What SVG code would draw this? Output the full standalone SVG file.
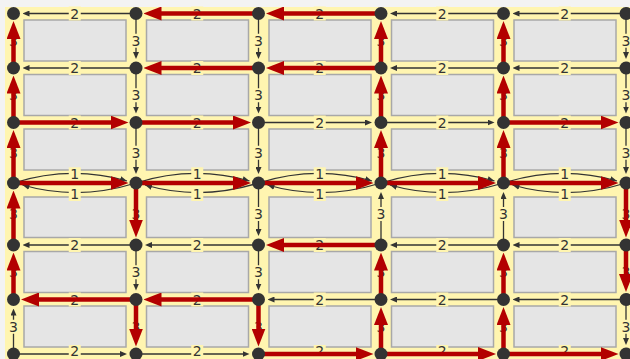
<svg xmlns="http://www.w3.org/2000/svg" width="630" height="359" viewBox="0 0 630 359">
<style>
.blk{fill:#e5e5e5;stroke:#a8a8a8;stroke-width:1.5}
.bl{fill:none;stroke:#333;stroke-width:1.3;marker-end:url(#bh)}
.arc{fill:none;stroke:#333;stroke-width:1.3;marker-end:url(#ah)}
.rd{fill:none;stroke:#b30000;stroke-width:4.5;marker-end:url(#rh)}
.lb{fill:#fff5b0}
.t{font-family:"DejaVu Sans",sans-serif;font-size:14px;fill:#333;text-anchor:middle}
.nd{fill:#333}
</style>
<defs>
<marker id="bh" markerUnits="userSpaceOnUse" viewBox="0 0 7 6" markerWidth="7" markerHeight="6" refX="3" refY="3" orient="auto"><path d="M0,0 L7,3 L0,6 z" fill="#333"/></marker>
<marker id="ah" markerUnits="userSpaceOnUse" viewBox="0 0 7 6" markerWidth="7" markerHeight="6" refX="7" refY="3" orient="auto"><path d="M0,0 L7,3 L0,6 z" fill="#333"/></marker>
<marker id="rh" markerUnits="userSpaceOnUse" viewBox="0 0 18 14" markerWidth="18" markerHeight="14" refX="8" refY="7" orient="auto"><path d="M0,0 L18,7 L0,14 z" fill="#b30000"/></marker>
</defs>
<rect x="0" y="0" width="630" height="359" fill="#f3f3f3"/>
<rect x="5" y="7" width="625" height="352" fill="#fff5b0"/>
<g id="blocks">
<rect class="blk" x="24" y="20" width="102" height="41"/><rect class="blk" x="146.5" y="20" width="102" height="41"/><rect class="blk" x="269" y="20" width="102" height="41"/><rect class="blk" x="391.5" y="20" width="102" height="41"/><rect class="blk" x="514" y="20" width="102" height="41"/>
<rect class="blk" x="24" y="74.5" width="102" height="41"/><rect class="blk" x="146.5" y="74.5" width="102" height="41"/><rect class="blk" x="269" y="74.5" width="102" height="41"/><rect class="blk" x="391.5" y="74.5" width="102" height="41"/><rect class="blk" x="514" y="74.5" width="102" height="41"/>
<rect class="blk" x="24" y="129" width="102" height="41"/><rect class="blk" x="146.5" y="129" width="102" height="41"/><rect class="blk" x="269" y="129" width="102" height="41"/><rect class="blk" x="391.5" y="129" width="102" height="41"/><rect class="blk" x="514" y="129" width="102" height="41"/>
<rect class="blk" x="24" y="197" width="102" height="40.5"/><rect class="blk" x="146.5" y="197" width="102" height="40.5"/><rect class="blk" x="269" y="197" width="102" height="40.5"/><rect class="blk" x="391.5" y="197" width="102" height="40.5"/><rect class="blk" x="514" y="197" width="102" height="40.5"/>
<rect class="blk" x="24" y="251.5" width="102" height="41"/><rect class="blk" x="146.5" y="251.5" width="102" height="41"/><rect class="blk" x="269" y="251.5" width="102" height="41"/><rect class="blk" x="391.5" y="251.5" width="102" height="41"/><rect class="blk" x="514" y="251.5" width="102" height="41"/>
<rect class="blk" x="24" y="306" width="102" height="41"/><rect class="blk" x="146.5" y="306" width="102" height="41"/><rect class="blk" x="269" y="306" width="102" height="41"/><rect class="blk" x="391.5" y="306" width="102" height="41"/><rect class="blk" x="514" y="306" width="102" height="41"/>
</g>
<g id="connectors">
<g id="thin">
<path class="bl" d="M136,13.5 H26.5"/><path class="bl" d="M503.5,13.5 H394"/><path class="bl" d="M626,13.5 H516.5"/>
<path class="bl" d="M136,68 H26.5"/><path class="bl" d="M503.5,68 H394"/><path class="bl" d="M626,68 H516.5"/>
<path class="bl" d="M258.5,122.5 H368"/><path class="bl" d="M381,122.5 H490.5"/>
<path class="bl" d="M136,245 H26.5"/><path class="bl" d="M258.5,245 H149"/><path class="bl" d="M503.5,245 H394"/><path class="bl" d="M626,245 H516.5"/>
<path class="bl" d="M381,299.5 H271.5"/><path class="bl" d="M503.5,299.5 H394"/><path class="bl" d="M626,299.5 H516.5"/>
<path class="bl" d="M13.5,354 H123"/><path class="bl" d="M136,354 H245.5"/>
<path class="bl" d="M13.5,354 V312.5"/>
<path class="bl" d="M136,13.5 V55"/><path class="bl" d="M136,68 V109.5"/><path class="bl" d="M136,122.5 V170"/><path class="bl" d="M136,245 V286.5"/>
<path class="bl" d="M258.5,13.5 V55"/><path class="bl" d="M258.5,68 V109.5"/><path class="bl" d="M258.5,122.5 V170"/><path class="bl" d="M258.5,183 V232"/><path class="bl" d="M258.5,245 V286.5"/>
<path class="bl" d="M381,245 V196"/><path class="bl" d="M503.5,245 V196"/>
<path class="bl" d="M626,13.5 V55"/><path class="bl" d="M626,68 V109.5"/><path class="bl" d="M626,122.5 V170"/><path class="bl" d="M626,299.5 V341"/>
<path class="arc" d="M13.5,183 Q71,165 127,181"/><path class="arc" d="M136,183 Q78,201 22.5,185"/>
<path class="arc" d="M136,183 Q193.5,165 249.5,181"/><path class="arc" d="M258.5,183 Q200.5,201 145,185"/>
<path class="arc" d="M258.5,183 Q316,165 372,181"/><path class="arc" d="M381,183 Q323,201 267.5,185"/>
<path class="arc" d="M381,183 Q438.5,165 494.5,181"/><path class="arc" d="M503.5,183 Q445.5,201 390,185"/>
<path class="arc" d="M503.5,183 Q561,165 617,181"/><path class="arc" d="M626,183 Q568,201 512.5,185"/>
</g>
<g id="labels">
<g id="lh">
<rect class="lb" x="68.75" y="6.5" width="12" height="14"/><rect class="lb" x="191.25" y="6.5" width="12" height="14"/><rect class="lb" x="313.75" y="6.5" width="12" height="14"/><rect class="lb" x="436.25" y="6.5" width="12" height="14"/><rect class="lb" x="558.75" y="6.5" width="12" height="14"/>
<text class="t" x="74.75" y="18.5">2</text><text class="t" x="197.25" y="18.5">2</text><text class="t" x="319.75" y="18.5">2</text><text class="t" x="442.25" y="18.5">2</text><text class="t" x="564.75" y="18.5">2</text>
<rect class="lb" x="68.75" y="61" width="12" height="14"/><rect class="lb" x="191.25" y="61" width="12" height="14"/><rect class="lb" x="313.75" y="61" width="12" height="14"/><rect class="lb" x="436.25" y="61" width="12" height="14"/><rect class="lb" x="558.75" y="61" width="12" height="14"/>
<text class="t" x="74.75" y="73">2</text><text class="t" x="197.25" y="73">2</text><text class="t" x="319.75" y="73">2</text><text class="t" x="442.25" y="73">2</text><text class="t" x="564.75" y="73">2</text>
<rect class="lb" x="68.75" y="115.5" width="12" height="14"/><rect class="lb" x="191.25" y="115.5" width="12" height="14"/><rect class="lb" x="313.75" y="115.5" width="12" height="14"/><rect class="lb" x="436.25" y="115.5" width="12" height="14"/><rect class="lb" x="558.75" y="115.5" width="12" height="14"/>
<text class="t" x="74.75" y="127.5">2</text><text class="t" x="197.25" y="127.5">2</text><text class="t" x="319.75" y="127.5">2</text><text class="t" x="442.25" y="127.5">2</text><text class="t" x="564.75" y="127.5">2</text>
<rect class="lb" x="68.75" y="167.3" width="12" height="14"/><rect class="lb" x="191.25" y="167.3" width="12" height="14"/><rect class="lb" x="313.75" y="167.3" width="12" height="14"/><rect class="lb" x="436.25" y="167.3" width="12" height="14"/><rect class="lb" x="558.75" y="167.3" width="12" height="14"/>
<text class="t" x="74.75" y="179.3">1</text><text class="t" x="197.25" y="179.3">1</text><text class="t" x="319.75" y="179.3">1</text><text class="t" x="442.25" y="179.3">1</text><text class="t" x="564.75" y="179.3">1</text>
<rect class="lb" x="68.75" y="187" width="12" height="14"/><rect class="lb" x="191.25" y="187" width="12" height="14"/><rect class="lb" x="313.75" y="187" width="12" height="14"/><rect class="lb" x="436.25" y="187" width="12" height="14"/><rect class="lb" x="558.75" y="187" width="12" height="14"/>
<text class="t" x="74.75" y="199">1</text><text class="t" x="197.25" y="199">1</text><text class="t" x="319.75" y="199">1</text><text class="t" x="442.25" y="199">1</text><text class="t" x="564.75" y="199">1</text>
<rect class="lb" x="68.75" y="238" width="12" height="14"/><rect class="lb" x="191.25" y="238" width="12" height="14"/><rect class="lb" x="313.75" y="238" width="12" height="14"/><rect class="lb" x="436.25" y="238" width="12" height="14"/><rect class="lb" x="558.75" y="238" width="12" height="14"/>
<text class="t" x="74.75" y="250">2</text><text class="t" x="197.25" y="250">2</text><text class="t" x="319.75" y="250">2</text><text class="t" x="442.25" y="250">2</text><text class="t" x="564.75" y="250">2</text>
<rect class="lb" x="68.75" y="292.5" width="12" height="14"/><rect class="lb" x="191.25" y="292.5" width="12" height="14"/><rect class="lb" x="313.75" y="292.5" width="12" height="14"/><rect class="lb" x="436.25" y="292.5" width="12" height="14"/><rect class="lb" x="558.75" y="292.5" width="12" height="14"/>
<text class="t" x="74.75" y="304.5">2</text><text class="t" x="197.25" y="304.5">2</text><text class="t" x="319.75" y="304.5">2</text><text class="t" x="442.25" y="304.5">2</text><text class="t" x="564.75" y="304.5">2</text>
<rect class="lb" x="68.75" y="345" width="12" height="14"/><rect class="lb" x="191.25" y="345" width="12" height="14"/><rect class="lb" x="313.75" y="345" width="12" height="14"/><rect class="lb" x="436.25" y="345" width="12" height="14"/><rect class="lb" x="558.75" y="345" width="12" height="14"/>
<text class="t" x="74.75" y="355.5">2</text><text class="t" x="197.25" y="355.5">2</text><text class="t" x="319.75" y="355.5">2</text><text class="t" x="442.25" y="355.5">2</text><text class="t" x="564.75" y="355.5">2</text>
</g>
<g id="lv">
<rect class="lb" x="7.5" y="33.75" width="12" height="14"/><rect class="lb" x="130" y="33.75" width="12" height="14"/><rect class="lb" x="252.5" y="33.75" width="12" height="14"/><rect class="lb" x="375" y="33.75" width="12" height="14"/><rect class="lb" x="497.5" y="33.75" width="12" height="14"/><rect class="lb" x="620" y="33.75" width="12" height="14"/>
<text class="t" x="13.5" y="45.75">3</text><text class="t" x="136" y="45.75">3</text><text class="t" x="258.5" y="45.75">3</text><text class="t" x="381" y="45.75">3</text><text class="t" x="503.5" y="45.75">3</text><text class="t" x="626" y="45.75">3</text>
<rect class="lb" x="7.5" y="88.25" width="12" height="14"/><rect class="lb" x="130" y="88.25" width="12" height="14"/><rect class="lb" x="252.5" y="88.25" width="12" height="14"/><rect class="lb" x="375" y="88.25" width="12" height="14"/><rect class="lb" x="497.5" y="88.25" width="12" height="14"/><rect class="lb" x="620" y="88.25" width="12" height="14"/>
<text class="t" x="13.5" y="100.25">3</text><text class="t" x="136" y="100.25">3</text><text class="t" x="258.5" y="100.25">3</text><text class="t" x="381" y="100.25">3</text><text class="t" x="503.5" y="100.25">3</text><text class="t" x="626" y="100.25">3</text>
<rect class="lb" x="7.5" y="145.75" width="12" height="14"/><rect class="lb" x="130" y="145.75" width="12" height="14"/><rect class="lb" x="252.5" y="145.75" width="12" height="14"/><rect class="lb" x="375" y="145.75" width="12" height="14"/><rect class="lb" x="497.5" y="145.75" width="12" height="14"/><rect class="lb" x="620" y="145.75" width="12" height="14"/>
<text class="t" x="13.5" y="157.75">3</text><text class="t" x="136" y="157.75">3</text><text class="t" x="258.5" y="157.75">3</text><text class="t" x="381" y="157.75">3</text><text class="t" x="503.5" y="157.75">3</text><text class="t" x="626" y="157.75">3</text>
<rect class="lb" x="7.5" y="207" width="12" height="14"/><rect class="lb" x="130" y="207" width="12" height="14"/><rect class="lb" x="252.5" y="207" width="12" height="14"/><rect class="lb" x="375" y="207" width="12" height="14"/><rect class="lb" x="497.5" y="207" width="12" height="14"/><rect class="lb" x="620" y="207" width="12" height="14"/>
<text class="t" x="13.5" y="219">3</text><text class="t" x="136" y="219">3</text><text class="t" x="258.5" y="219">3</text><text class="t" x="381" y="219">3</text><text class="t" x="503.5" y="219">3</text><text class="t" x="626" y="219">3</text>
<rect class="lb" x="7.5" y="265.25" width="12" height="14"/><rect class="lb" x="130" y="265.25" width="12" height="14"/><rect class="lb" x="252.5" y="265.25" width="12" height="14"/><rect class="lb" x="375" y="265.25" width="12" height="14"/><rect class="lb" x="497.5" y="265.25" width="12" height="14"/><rect class="lb" x="620" y="265.25" width="12" height="14"/>
<text class="t" x="13.5" y="277.25">3</text><text class="t" x="136" y="277.25">3</text><text class="t" x="258.5" y="277.25">3</text><text class="t" x="381" y="277.25">3</text><text class="t" x="503.5" y="277.25">3</text><text class="t" x="626" y="277.25">3</text>
<rect class="lb" x="7.5" y="319.75" width="12" height="14"/><rect class="lb" x="130" y="319.75" width="12" height="14"/><rect class="lb" x="252.5" y="319.75" width="12" height="14"/><rect class="lb" x="375" y="319.75" width="12" height="14"/><rect class="lb" x="497.5" y="319.75" width="12" height="14"/><rect class="lb" x="620" y="319.75" width="12" height="14"/>
<text class="t" x="13.5" y="331.75">3</text><text class="t" x="136" y="331.75">3</text><text class="t" x="258.5" y="331.75">3</text><text class="t" x="381" y="331.75">3</text><text class="t" x="503.5" y="331.75">3</text><text class="t" x="626" y="331.75">3</text>
</g>
</g>
<g id="path">
<path class="rd" d="M258.5,13.5 H153.5"/><path class="rd" d="M381,13.5 H276"/>
<path class="rd" d="M258.5,68 H153.5"/><path class="rd" d="M381,68 H276"/>
<path class="rd" d="M13.5,122.5 H118.5"/><path class="rd" d="M136,122.5 H241"/><path class="rd" d="M503.5,122.5 H608.5"/>
<path class="rd" d="M13.5,183 H118.5"/><path class="rd" d="M136,183 H241"/><path class="rd" d="M258.5,183 H363.5"/><path class="rd" d="M381,183 H486"/><path class="rd" d="M503.5,183 H608.5"/>
<path class="rd" d="M381,245 H276"/>
<path class="rd" d="M136,299.5 H31"/><path class="rd" d="M258.5,299.5 H153.5"/>
<path class="rd" d="M258.5,354 H363.5"/><path class="rd" d="M381,354 H486"/><path class="rd" d="M503.5,354 H608.5"/>
<path class="rd" d="M13.5,68 V31"/><path class="rd" d="M13.5,122.5 V85.5"/><path class="rd" d="M13.5,183 V140"/><path class="rd" d="M13.5,245 V200.5"/><path class="rd" d="M13.5,299.5 V262.5"/>
<path class="rd" d="M136,183 V227.5"/><path class="rd" d="M136,299.5 V336.5"/>
<path class="rd" d="M258.5,299.5 V336.5"/>
<path class="rd" d="M381,68 V31"/><path class="rd" d="M381,122.5 V85.5"/><path class="rd" d="M381,183 V140"/><path class="rd" d="M381,299.5 V262.5"/><path class="rd" d="M381,354 V317"/>
<path class="rd" d="M503.5,68 V31"/><path class="rd" d="M503.5,122.5 V85.5"/><path class="rd" d="M503.5,183 V140"/><path class="rd" d="M503.5,299.5 V262.5"/><path class="rd" d="M503.5,354 V317"/>
<path class="rd" d="M626,183 V227.5"/><path class="rd" d="M626,245 V282"/>
</g>
</g>
<g id="nodes">
<g id="n0-0"><circle class="nd" cx="13.5" cy="13.5" r="6.5"/></g><g id="n0-1"><circle class="nd" cx="136" cy="13.5" r="6.5"/></g><g id="n0-2"><circle class="nd" cx="258.5" cy="13.5" r="6.5"/></g><g id="n0-3"><circle class="nd" cx="381" cy="13.5" r="6.5"/></g><g id="n0-4"><circle class="nd" cx="503.5" cy="13.5" r="6.5"/></g><g id="n0-5"><circle class="nd" cx="626" cy="13.5" r="6.5"/></g>
<g id="n1-0"><circle class="nd" cx="13.5" cy="68" r="6.5"/></g><g id="n1-1"><circle class="nd" cx="136" cy="68" r="6.5"/></g><g id="n1-2"><circle class="nd" cx="258.5" cy="68" r="6.5"/></g><g id="n1-3"><circle class="nd" cx="381" cy="68" r="6.5"/></g><g id="n1-4"><circle class="nd" cx="503.5" cy="68" r="6.5"/></g><g id="n1-5"><circle class="nd" cx="626" cy="68" r="6.5"/></g>
<g id="n2-0"><circle class="nd" cx="13.5" cy="122.5" r="6.5"/></g><g id="n2-1"><circle class="nd" cx="136" cy="122.5" r="6.5"/></g><g id="n2-2"><circle class="nd" cx="258.5" cy="122.5" r="6.5"/></g><g id="n2-3"><circle class="nd" cx="381" cy="122.5" r="6.5"/></g><g id="n2-4"><circle class="nd" cx="503.5" cy="122.5" r="6.5"/></g><g id="n2-5"><circle class="nd" cx="626" cy="122.5" r="6.5"/></g>
<g id="n3-0"><circle class="nd" cx="13.5" cy="183" r="6.5"/></g><g id="n3-1"><circle class="nd" cx="136" cy="183" r="6.5"/></g><g id="n3-2"><circle class="nd" cx="258.5" cy="183" r="6.5"/></g><g id="n3-3"><circle class="nd" cx="381" cy="183" r="6.5"/></g><g id="n3-4"><circle class="nd" cx="503.5" cy="183" r="6.5"/></g><g id="n3-5"><circle class="nd" cx="626" cy="183" r="6.5"/></g>
<g id="n4-0"><circle class="nd" cx="13.5" cy="245" r="6.5"/></g><g id="n4-1"><circle class="nd" cx="136" cy="245" r="6.5"/></g><g id="n4-2"><circle class="nd" cx="258.5" cy="245" r="6.5"/></g><g id="n4-3"><circle class="nd" cx="381" cy="245" r="6.5"/></g><g id="n4-4"><circle class="nd" cx="503.5" cy="245" r="6.5"/></g><g id="n4-5"><circle class="nd" cx="626" cy="245" r="6.5"/></g>
<g id="n5-0"><circle class="nd" cx="13.5" cy="299.5" r="6.5"/></g><g id="n5-1"><circle class="nd" cx="136" cy="299.5" r="6.5"/></g><g id="n5-2"><circle class="nd" cx="258.5" cy="299.5" r="6.5"/></g><g id="n5-3"><circle class="nd" cx="381" cy="299.5" r="6.5"/></g><g id="n5-4"><circle class="nd" cx="503.5" cy="299.5" r="6.5"/></g><g id="n5-5"><circle class="nd" cx="626" cy="299.5" r="6.5"/></g>
<g id="n6-0"><circle class="nd" cx="13.5" cy="354" r="6.5"/></g><g id="n6-1"><circle class="nd" cx="136" cy="354" r="6.5"/></g><g id="n6-2"><circle class="nd" cx="258.5" cy="354" r="6.5"/></g><g id="n6-3"><circle class="nd" cx="381" cy="354" r="6.5"/></g><g id="n6-4"><circle class="nd" cx="503.5" cy="354" r="6.5"/></g><g id="n6-5"><circle class="nd" cx="626" cy="354" r="6.5"/></g>
</g>
</svg>
